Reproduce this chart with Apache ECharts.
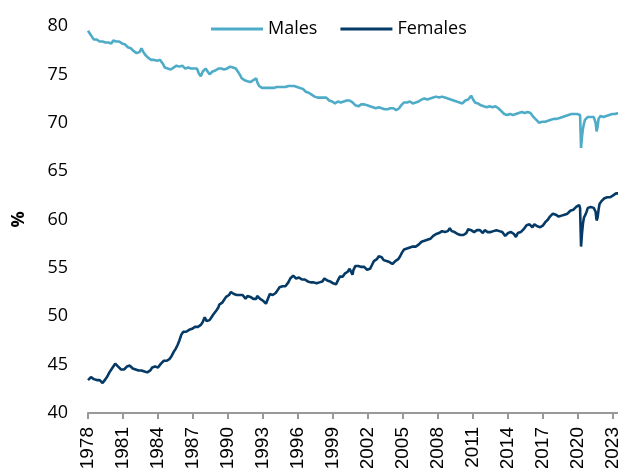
<!DOCTYPE html>
<html>
<head>
<meta charset="utf-8">
<script src="https://cdn.jsdelivr.net/npm/echarts@6/dist/echarts.min.js"></script>
<style>
  html, body { margin: 0; padding: 0; background: #fff; }
  #chart { width: 618px; height: 468px; }
</style>
</head>
<body>
<div id="chart"></div>
<script>
// monthly series, Jan 1978 - Jun 2023
const firstYear = 1978;
const males = [
  79.5, 79.3, 79.2, 79.0, 78.9, 78.7, 78.6, 78.6, 78.5, 78.6, 78.5, 78.5,
  78.4, 78.5, 78.4, 78.4, 78.3, 78.4, 78.3, 78.3, 78.2, 78.3, 78.2, 78.3,
  78.2, 78.4, 78.5, 78.7, 78.5, 78.4, 78.5, 78.3, 78.4, 78.5, 78.3, 78.2,
  78.3, 78.2, 78.1, 78.0, 77.9, 77.8, 77.7, 77.6, 77.7, 77.5, 77.6, 77.4,
  77.4, 77.3, 77.2, 77.2, 77.1, 77.3, 77.4, 77.7, 77.6, 77.3, 77.1, 77.0,
  76.9, 76.8, 76.7, 76.6, 76.6, 76.5, 76.5, 76.4, 76.5, 76.4, 76.5, 76.4,
  76.3, 76.4, 76.5, 76.4, 76.3, 76.1, 75.9, 75.7, 75.6, 75.7, 75.6, 75.5,
  75.6, 75.5, 75.6, 75.5, 75.7, 75.6, 75.8, 75.9, 76.1, 75.9, 75.8, 75.9,
  75.8, 75.9, 75.8, 75.7, 75.6, 75.7, 75.6, 75.7, 75.5, 75.6, 75.6, 75.4,
  75.5, 75.6, 75.4, 75.5, 75.6, 75.4, 75.1, 74.9, 74.8, 75.0, 75.3, 75.4,
  75.5, 75.6, 75.5, 75.3, 75.1, 75.0, 74.9, 75.1, 75.3, 75.4, 75.3, 75.4,
  75.3, 75.5, 75.6, 75.5, 75.4, 75.6, 75.5, 75.4, 75.5, 75.3, 75.5, 75.6,
  75.7, 75.6, 75.8, 75.9, 75.8, 75.7, 75.6, 75.7, 75.6, 75.4, 75.3, 75.4,
  75.0, 74.8, 74.6, 74.5, 74.5, 74.4, 74.5, 74.4, 74.3, 74.4, 74.3, 74.2,
  74.3, 74.2, 74.4, 74.3, 74.5, 74.6, 74.2, 74.0, 73.8, 73.7, 73.8, 73.6,
  73.7, 73.5, 73.6, 73.5, 73.4, 73.6, 73.5, 73.7, 73.6, 73.5, 73.7, 73.6,
  73.6, 73.5, 73.7, 73.6, 73.8, 73.7, 73.6, 73.8, 73.7, 73.9, 73.8, 73.7,
  73.8, 73.7, 73.8, 73.6, 73.7, 73.8, 73.9, 73.7, 73.8, 73.7, 73.6, 73.7,
  73.6, 73.5, 73.6, 73.5, 73.4, 73.5, 73.4, 73.3, 73.2, 73.3, 73.2, 73.1,
  73.1, 73.0, 72.9, 73.0, 72.8, 72.7, 72.8, 72.7, 72.6, 72.8, 72.7, 72.6,
  72.7, 72.8, 72.6, 72.7, 72.5, 72.6, 72.4, 72.5, 72.3, 72.4, 72.3, 72.2,
  72.2, 72.1, 72.0, 72.1, 72.0, 72.2, 72.1, 72.0, 72.1, 72.2, 72.1, 72.2,
  72.1, 72.2, 72.3, 72.2, 72.4, 72.3, 72.2, 72.3, 72.1, 72.0, 71.9, 71.8,
  71.7, 71.8, 71.7, 71.9, 71.8, 71.9, 72.0, 71.8, 71.9, 71.8, 71.9, 71.8,
  71.9, 71.8, 71.7, 71.8, 71.7, 71.6, 71.7, 71.6, 71.5, 71.6, 71.5, 71.6,
  71.5, 71.4, 71.5, 71.4, 71.3, 71.4, 71.3, 71.5, 71.4, 71.5, 71.6, 71.5,
  71.5, 71.4, 71.5, 71.6, 71.4, 71.3, 71.4, 71.3, 71.5, 71.6, 71.8, 71.9,
  72.0, 72.1, 72.0, 72.2, 72.1, 72.0, 72.1, 72.2, 72.0, 72.1, 72.0, 72.1,
  72.0, 72.1, 72.2, 72.1, 72.2, 72.3, 72.2, 72.4, 72.5, 72.4, 72.5, 72.4,
  72.5, 72.4, 72.5, 72.6, 72.5, 72.6, 72.7, 72.6, 72.7, 72.6, 72.7, 72.6,
  72.7, 72.6, 72.7, 72.6, 72.7, 72.6, 72.5, 72.6, 72.5, 72.6, 72.5, 72.4,
  72.5, 72.4, 72.3, 72.4, 72.3, 72.4, 72.3, 72.2, 72.3, 72.2, 72.1, 72.2,
  72.1, 72.0, 72.1, 72.2, 72.3, 72.4, 72.3, 72.4, 72.5, 72.6, 72.8, 72.6,
  72.4, 72.3, 72.1, 72.0, 71.9, 72.0, 71.9, 72.0, 71.8, 71.9, 71.8, 71.7,
  71.8, 71.7, 71.6, 71.7, 71.8, 71.7, 71.6, 71.7, 71.6, 71.7, 71.8, 71.7,
  71.7, 71.6, 71.5, 71.4, 71.3, 71.2, 71.1, 71.0, 70.9, 71.0, 70.8, 70.8,
  70.9, 70.8, 70.9, 70.8, 70.7, 70.8, 70.9, 71.0, 70.9, 71.0, 71.1, 71.0,
  71.1, 71.2, 71.1, 71.0, 71.1, 71.0, 71.1, 71.2, 71.1, 71.2, 71.1, 71.0,
  70.9, 70.8, 70.6, 70.5, 70.4, 70.3, 70.2, 70.1, 70.0, 70.1, 70.0, 70.1,
  70.1, 70.0, 70.1, 70.2, 70.1, 70.2, 70.3, 70.2, 70.3, 70.4, 70.3, 70.4,
  70.4, 70.5, 70.4, 70.5, 70.6, 70.5, 70.6, 70.7, 70.6, 70.7, 70.8, 70.7,
  70.8, 70.9, 70.8, 70.9, 71.0, 70.9, 71.1, 71.0, 70.9, 70.8, 70.9, 70.9,
  71.0, 70.9, 70.8, 67.4, 68.6, 69.4, 69.9, 70.3, 70.5, 70.4, 70.6, 70.8,
  70.7, 70.6, 70.8, 70.7, 70.6, 70.5, 70.0, 69.1, 69.6, 70.4, 70.6, 70.7,
  70.6, 70.7, 70.6, 70.7, 70.8, 70.7, 70.8, 70.7, 70.8, 70.9, 70.8, 70.9,
  70.9, 70.8, 70.9, 71.0, 70.9, 71.0
];
const females = [
  43.4, 43.5, 43.6, 43.7, 43.6, 43.7, 43.5, 43.6, 43.5, 43.4, 43.5, 43.4,
  43.4, 43.3, 43.2, 43.1, 43.2, 43.3, 43.5, 43.7, 43.8, 44.0, 44.2, 44.3,
  44.5, 44.6, 44.8, 44.9, 45.1, 45.0, 44.9, 44.8, 44.7, 44.6, 44.5, 44.4,
  44.4, 44.5, 44.6, 44.7, 44.8, 44.9, 45.0, 44.9, 44.8, 44.7, 44.6, 44.5,
  44.6, 44.5, 44.4, 44.5, 44.4, 44.3, 44.5, 44.4, 44.3, 44.4, 44.3, 44.2,
  44.3, 44.2, 44.3, 44.1, 44.4, 44.6, 44.7, 44.8, 44.7, 44.8, 44.7, 44.8,
  44.7, 44.8, 44.9, 45.1, 45.3, 45.2, 45.4, 45.3, 45.5, 45.4, 45.6, 45.5,
  45.6, 45.7, 45.9, 46.1, 46.3, 46.4, 46.6, 46.8, 47.0, 47.2, 47.5, 47.8,
  48.1, 48.3, 48.4, 48.3, 48.5, 48.4, 48.6, 48.5, 48.6, 48.7, 48.5, 48.7,
  48.8, 48.7, 48.9, 48.8, 49.0, 48.9, 48.8, 49.0, 49.1, 49.3, 49.4, 49.6,
  49.9, 49.7, 49.5, 49.3, 49.4, 49.6, 49.8, 49.9, 50.1, 50.2, 50.4, 50.3,
  50.6, 50.8, 50.9, 51.2, 51.3, 51.2, 51.4, 51.6, 51.7, 51.8, 52.0, 51.9,
  52.1, 52.2, 52.4, 52.5, 52.6, 52.4, 52.3, 52.5, 52.4, 52.2, 52.1, 52.3,
  52.2, 52.4, 52.3, 52.2, 52.1, 52.0, 51.8, 51.9, 52.1, 52.0, 51.9, 52.0,
  52.1, 51.9, 51.8, 51.7, 51.6, 51.8, 52.1, 52.0, 51.9, 51.8, 51.9, 51.7,
  51.6, 51.5, 51.4, 51.3, 51.5, 51.8, 52.0, 52.3, 52.4, 52.3, 52.2, 52.3,
  52.3, 52.4, 52.5, 52.7, 52.9, 53.0, 52.9, 53.0, 53.1, 53.0, 53.2, 53.1,
  53.2, 53.3, 53.5, 53.7, 53.9, 54.0, 54.1, 54.2, 54.1, 54.0, 53.9, 54.0,
  53.9, 54.0, 53.8, 53.9, 53.8, 53.7, 53.9, 53.8, 53.7, 53.8, 53.6, 53.7,
  53.6, 53.5, 53.6, 53.4, 53.5, 53.4, 53.5, 53.4, 53.3, 53.4, 53.5, 53.4,
  53.5, 53.6, 53.8, 53.9, 53.8, 53.9, 53.7, 53.6, 53.5, 53.6, 53.5, 53.4,
  53.4, 53.3, 53.4, 53.3, 53.5, 53.7, 53.9, 54.1, 54.0, 54.2, 54.1, 54.3,
  54.4, 54.3, 54.5, 54.6, 54.8, 54.9, 55.1, 54.7, 54.3, 54.8, 55.0, 55.2,
  55.3, 55.1, 55.2, 55.3, 55.2, 55.1, 55.3, 55.2, 55.1, 55.0, 54.9, 54.8,
  54.7, 54.8, 54.9, 55.1, 55.3, 55.5, 55.7, 55.6, 55.8, 55.9, 56.1, 56.2,
  56.3, 56.2, 56.1, 55.9, 55.8, 55.9, 55.8, 55.7, 55.6, 55.7, 55.6, 55.5,
  55.5, 55.4, 55.5, 55.6, 55.7, 55.6, 55.8, 55.9, 56.1, 56.2, 56.4, 56.6,
  56.8, 56.9, 57.0, 57.1, 57.0, 57.1, 57.2, 57.1, 57.0, 57.1, 57.2, 57.1,
  57.1, 57.2, 57.3, 57.2, 57.4, 57.5, 57.6, 57.7, 57.6, 57.7, 57.8, 57.7,
  57.8, 57.9, 57.8, 57.9, 58.0, 58.1, 58.2, 58.3, 58.4, 58.3, 58.5, 58.4,
  58.5, 58.6, 58.5, 58.7, 58.8, 58.7, 58.6, 58.7, 58.6, 58.7, 58.8, 58.9,
  59.1, 58.9, 58.8, 58.7, 58.6, 58.7, 58.5, 58.6, 58.5, 58.4, 58.5, 58.4,
  58.4, 58.3, 58.4, 58.3, 58.5, 58.6, 58.8, 59.0, 58.9, 58.8, 58.9, 59.0,
  58.8, 58.7, 58.9, 58.8, 58.9, 58.8, 59.0, 58.9, 58.8, 58.7, 58.6, 58.8,
  58.9, 59.0, 58.8, 58.7, 58.9, 58.8, 58.7, 58.8, 58.7, 58.8, 58.9, 58.8,
  58.9, 58.8, 58.7, 58.8, 58.7, 58.6, 58.7, 58.6, 58.5, 58.3, 58.2, 58.5,
  58.6, 58.7, 58.6, 58.7, 58.8, 58.6, 58.5, 58.4, 58.2, 58.4, 58.6, 58.5,
  58.6, 58.7, 58.8, 58.9, 59.0, 59.1, 59.2, 59.4, 59.5, 59.6, 59.5, 59.4,
  59.3, 59.2, 59.4, 59.5, 59.6, 59.4, 59.3, 59.2, 59.1, 59.2, 59.1, 59.3,
  59.4, 59.5, 59.7, 59.8, 59.9, 60.0, 60.2, 60.3, 60.4, 60.5, 60.6, 60.5,
  60.4, 60.5, 60.3, 60.4, 60.3, 60.2, 60.3, 60.4, 60.5, 60.4, 60.5, 60.6,
  60.7, 60.6, 60.7, 60.8, 60.9, 61.0, 60.9, 61.0, 61.1, 61.2, 61.3, 61.4,
  61.3, 61.5, 61.2, 57.2, 58.6, 59.6, 60.2, 60.4, 60.6, 60.9, 61.2, 61.3,
  61.2, 61.3, 61.4, 61.3, 61.2, 61.3, 60.8, 59.9, 60.2, 61.0, 61.6, 61.8,
  61.9, 62.0, 62.1, 62.2, 62.3, 62.2, 62.3, 62.2, 62.4, 62.3, 62.5, 62.4,
  62.5, 62.6, 62.5, 62.7, 62.6, 62.7
];

// one category per month, labelled by year
const months = [];
for (let i = 0; i < males.length; i++) {
  months.push(String(firstYear + Math.floor(i / 12)));
}
const everyThreeYears = (idx) => idx % 36 === 0;

const chart = echarts.init(document.getElementById('chart'));
const option = {
  animation: false,
  grid: {
    left: 88,
    right: 0,
    top: 26,
    bottom: 55,
    containLabel: false,
    outerBoundsMode: 'none',
  },
  legend: {
    data: ['Males', 'Females'],
    left: 206,
    top: 15,
    icon: 'rect',
    itemWidth: 52,
    itemHeight: 3,
    itemGap: 23,
    textStyle: {
      fontFamily: 'Open Sans',
      fontSize: 18,
      color: '#000',
    },
  },
  xAxis: {
    type: 'category',
    data: months,
    boundaryGap: false,
    axisLine: { lineStyle: { color: '#999', width: 2 } },
    axisTick: { interval: everyThreeYears, length: 6, lineStyle: { color: '#999', width: 2 } },
    axisLabel: {
      interval: everyThreeYears,
      rotate: 90,
      margin: 14,
      fontFamily: 'Liberation Sans',
      fontSize: 19,
      color: '#000',
    },
    splitLine: { show: false },
  },
  yAxis: {
    type: 'value',
    min: 40,
    max: 80,
    interval: 5,
    name: '%',
    nameLocation: 'middle',
    nameGap: 60,
    nameRotate: 90,
    nameTextStyle: { fontFamily: 'Open Sans', fontSize: 18, fontWeight: 'bold', color: '#000' },
    axisLine: { show: false },
    axisTick: { show: false },
    splitLine: { show: false },
    axisLabel: { margin: 20, fontFamily: 'Open Sans', fontSize: 18, color: '#000' },
  },
  series: [
    {
      name: 'Males',
      type: 'line',
      data: males,
      showSymbol: false,
      lineStyle: { color: '#4FACC8', width: 2.6 },
      itemStyle: { color: '#4FACC8' },
    },
    {
      name: 'Females',
      type: 'line',
      data: females,
      showSymbol: false,
      lineStyle: { color: '#053A66', width: 2.6 },
      itemStyle: { color: '#053A66' },
    },
  ],
};
chart.setOption(option);
</script>
</body>
</html>
